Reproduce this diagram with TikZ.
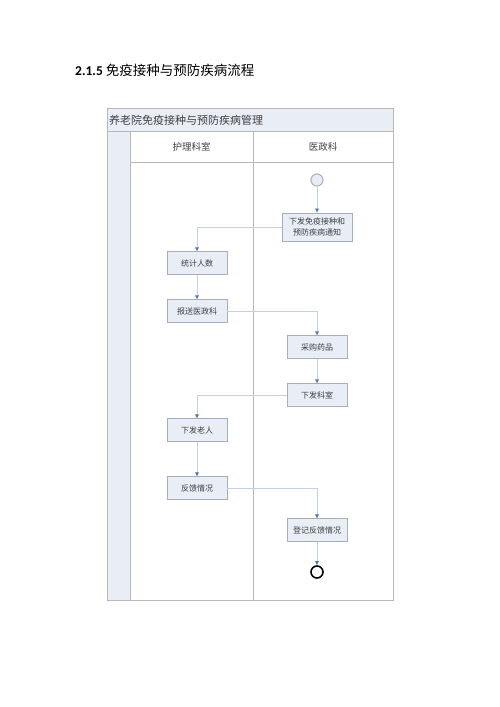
\documentclass[tikz,border=0pt]{standalone}
\usepackage{fontspec}
\setmainfont{Carlito}
\newfontfamily\cjk{Noto Sans CJK SC}
\usetikzlibrary{arrows.meta}
\definecolor{framec}{HTML}{B8B8B8}
\definecolor{headfill}{HTML}{E9EDF5}
\definecolor{boxfill}{HTML}{E8EDF6}
\definecolor{boxdraw}{HTML}{A6AEBC}
\definecolor{linec}{HTML}{C4D0E4}
\definecolor{tipc}{HTML}{4A70B4}
\definecolor{textc}{HTML}{404040}
\tikzset{
  actbox/.style={draw=boxdraw, fill=boxfill, line width=0.6pt, minimum width=60pt, minimum height=22.5pt, inner sep=1pt, align=center, font=\cjk\fontsize{8}{11}\selectfont, text=textc},
  flow/.style={draw=linec, line width=0.6pt, -{Latex[length=4pt,width=4pt,color=tipc]}},
}
\begin{document}
\begin{tikzpicture}[x=1pt,y=-1pt]
\path[use as bounding box, fill=white] (0,0) rectangle (500,707);
% title
\node[anchor=west, inner sep=0] (title) at (75,70) {\fontsize{13.5}{15}\selectfont\textbf{2.1.5} {\cjk 免疫接种与预防疾病流程}};
% frame
\fill[headfill] (107,108) rectangle (393,131);
\fill[headfill] (107,131) rectangle (130,600);
\draw[framec, line width=0.7pt] (107,108) rectangle (393,600);
\draw[framec, line width=0.6pt] (107,131) -- (393,131);
\draw[framec, line width=0.6pt] (130,131) -- (130,600);
\draw[framec, line width=0.6pt] (130,162) -- (393,162);
\draw[framec, line width=0.6pt] (253,131) -- (253,600);
\node[anchor=west, inner sep=0, text=textc] (pool) at (109,120) {\cjk\fontsize{11}{13}\selectfont 养老院免疫接种与预防疾病管理};
\node[text=textc] (lane1) at (191.5,147) {\cjk\fontsize{9.5}{11}\selectfont 护理科室};
\node[text=textc] (lane2) at (323,147) {\cjk\fontsize{9.5}{11}\selectfont 医政科};
% nodes
\node[circle, draw=framec, fill=headfill, line width=1.2pt, minimum size=12pt, inner sep=0] (start) at (317,180) {};
\node[actbox, minimum width=70pt, minimum height=28pt] (a1) at (317,227) {下发免疫接种和\\预防疾病通知};
\node[actbox] (a2) at (197,263) {统计人数};
\node[actbox] (a3) at (197,311) {报送医政科};
\node[actbox] (a4) at (317,347) {采购药品};
\node[actbox] (a5) at (317,395) {下发科室};
\node[actbox] (a6) at (197,430) {下发老人};
\node[actbox] (a7) at (197,488) {反馈情况};
\node[actbox] (a8) at (317,530) {登记反馈情况};
\node[circle, draw=black, fill=white, line width=1.6pt, minimum size=12pt, inner sep=0] (end) at (317,572) {};
% connectors
\draw[flow] (start) -- (a1);
\draw[flow] (a1.west) -| (a2.north);
\draw[flow] (a2) -- (a3);
\draw[flow] (a3.east) -| (a4.north);
\draw[flow] (a4) -- (a5);
\draw[flow] (a5.west) -| (a6.north);
\draw[flow] (a6) -- (a7);
\draw[flow] (a7.east) -| (a8.north);
\draw[flow] (a8) -- (end);
\end{tikzpicture}
\end{document}
